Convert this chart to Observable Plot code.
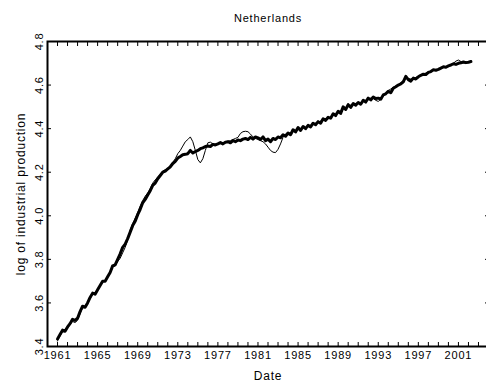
<!DOCTYPE html>
<html>
<head>
<meta charset="utf-8">
<script src="https://cdn.jsdelivr.net/npm/d3@7"></script>
<script src="https://cdn.jsdelivr.net/npm/@observablehq/plot@0.6"></script>
<style>
  html, body { margin: 0; padding: 0; background: #fff; }
  #chart svg { display: block; }
</style>
</head>
<body>
<div id="chart"></div>
<script>
// Quarterly series, first observation 1961 Q1
const startYear = 1961;

// log of industrial production (thin line)
const actual = [
  3.425, 3.448, 3.470, 3.478,
  3.485, 3.500, 3.515, 3.510,
  3.520, 3.550, 3.578, 3.588,
  3.598, 3.620, 3.640, 3.648,
  3.660, 3.678, 3.695, 3.705,
  3.722, 3.742, 3.765, 3.770,
  3.790, 3.805, 3.830, 3.855,
  3.890, 3.935, 3.965, 3.990,
  4.015, 4.045, 4.070, 4.090,
  4.105, 4.125, 4.150, 4.165,
  4.178, 4.190, 4.205, 4.212,
  4.215, 4.225, 4.245, 4.262,
  4.285, 4.300, 4.320, 4.340,
  4.350, 4.362, 4.340, 4.300,
  4.258, 4.243, 4.262, 4.300,
  4.335, 4.338, 4.330, 4.328,
  4.330, 4.335, 4.332, 4.340,
  4.342, 4.345, 4.350, 4.355,
  4.360, 4.378, 4.386, 4.388,
  4.386, 4.375, 4.362, 4.355,
  4.350, 4.345, 4.340, 4.330,
  4.315, 4.300, 4.292, 4.290,
  4.305, 4.330, 4.360, 4.375,
  4.378, 4.380, 4.392, 4.385,
  4.400, 4.398, 4.405, 4.402,
  4.412, 4.415, 4.420, 4.425,
  4.430, 4.435, 4.440, 4.440,
  4.445, 4.455, 4.462, 4.465,
  4.472, 4.480, 4.490, 4.495,
  4.502, 4.508, 4.512, 4.515,
  4.515, 4.520, 4.525, 4.530,
  4.535, 4.540, 4.538, 4.530,
  4.525, 4.535, 4.550, 4.562,
  4.575, 4.582, 4.590, 4.595,
  4.600, 4.610, 4.622, 4.632,
  4.630, 4.628, 4.632, 4.635,
  4.640, 4.648, 4.652, 4.655,
  4.660, 4.665, 4.668, 4.670,
  4.672, 4.676, 4.680, 4.685,
  4.690, 4.695, 4.700, 4.710,
  4.715, 4.708, 4.702, 4.700,
  4.705, 4.710
];

// fitted path (thick line)
const fitted = [
  3.435, 3.455, 3.475, 3.470,
  3.490, 3.505, 3.525, 3.520,
  3.530, 3.560, 3.585, 3.580,
  3.600, 3.625, 3.645, 3.640,
  3.660, 3.680, 3.700, 3.700,
  3.720, 3.740, 3.770, 3.775,
  3.800, 3.825, 3.855, 3.870,
  3.895, 3.925, 3.955, 3.975,
  4.005, 4.030, 4.060, 4.075,
  4.095, 4.115, 4.140, 4.150,
  4.170, 4.185, 4.200, 4.205,
  4.215, 4.225, 4.240, 4.250,
  4.265, 4.272, 4.280, 4.282,
  4.285, 4.300, 4.288, 4.295,
  4.300, 4.308, 4.312, 4.318,
  4.320, 4.318, 4.328, 4.325,
  4.330, 4.336, 4.330, 4.338,
  4.340, 4.335, 4.345, 4.340,
  4.348, 4.345, 4.352, 4.355,
  4.350, 4.360, 4.352, 4.362,
  4.358, 4.350, 4.362, 4.345,
  4.352, 4.340, 4.355, 4.350,
  4.362, 4.358, 4.372, 4.365,
  4.380, 4.372, 4.395, 4.385,
  4.405, 4.392, 4.410, 4.400,
  4.415, 4.408, 4.425, 4.418,
  4.432, 4.425, 4.445, 4.438,
  4.452, 4.448, 4.468, 4.460,
  4.480, 4.470, 4.500, 4.488,
  4.510, 4.498, 4.515, 4.508,
  4.520, 4.512, 4.530, 4.522,
  4.540, 4.532, 4.545, 4.538,
  4.540, 4.535, 4.555, 4.560,
  4.572, 4.565, 4.585, 4.592,
  4.600, 4.605, 4.615, 4.640,
  4.625, 4.618, 4.632, 4.628,
  4.638, 4.645, 4.650, 4.648,
  4.658, 4.662, 4.670, 4.668,
  4.672, 4.678, 4.684, 4.682,
  4.688, 4.692, 4.698, 4.695,
  4.700, 4.702, 4.706, 4.703,
  4.705, 4.708
];

// Axis ticks
const yearTicks = d3.range(1961, 2004);          // minor ticks, every year
const yearLabels = [1961, 1965, 1969, 1973, 1977, 1981, 1985, 1989, 1993, 1997, 2001];
const yTicks = [3.4, 3.6, 3.8, 4.0, 4.2, 4.4, 4.6, 4.8];

const titleText = "Netherlands";
const xTitle = "Date";
const yTitle = "log of industrial production";

const toRows = (vals) => vals.map((v, i) => ({date: startYear + i / 4, value: v}));
const actualRows = toRows(actual);
const fittedRows = toRows(fitted);

const font = "'Liberation Sans', Arial, sans-serif";

const chart = Plot.plot({
  width: 486,
  height: 390,
  marginLeft: 47,
  marginRight: -2,
  marginTop: 41,
  marginBottom: 44,
  style: {fontFamily: font, fontSize: "11px", letterSpacing: "0.8px", color: "#000", background: "#fff"},
  x: {domain: [1960, 2004]},
  y: {domain: [3.4, 4.8]},
  marks: [
    // inward tick marks on all sides
    Plot.axisX({anchor: "bottom", ticks: yearTicks, tickSize: 4, dy: -4, tickFormat: () => "", label: null}),
    Plot.axisX({anchor: "top", ticks: yearTicks, tickSize: 4, dy: 4, tickFormat: () => "", label: null}),
    Plot.axisY({anchor: "left", ticks: yTicks, tickSize: 4, dx: 4, tickFormat: () => "", label: null}),
    Plot.axisY({anchor: "right", ticks: yTicks, tickSize: 4, dx: -4, tickFormat: () => "", label: null}),
    // year labels
    Plot.axisX({anchor: "bottom", ticks: yearLabels, tickSize: 0, tickPadding: 5, tickFormat: d => String(d), label: null}),
    // rotated value labels
    Plot.text(yTicks, {y: d => d, text: d => d.toFixed(1), frameAnchor: "left", rotate: -90,
      dx: -5, lineAnchor: "bottom", textAnchor: "middle"}),
    // series
    Plot.line(actualRows, {x: "date", y: "value", stroke: "#000", strokeWidth: 1}),
    Plot.line(fittedRows, {x: "date", y: "value", stroke: "#000", strokeWidth: 3, strokeLinejoin: "round"}),
    // frame
    Plot.frame({stroke: "#000", strokeWidth: 2}),
    // titles
    Plot.text([titleText], {frameAnchor: "top", dy: -20, lineAnchor: "bottom", fontSize: 11}),
    Plot.text([xTitle], {frameAnchor: "bottom", dy: 25, lineAnchor: "top", fontSize: 12}),
    Plot.text([yTitle], {frameAnchor: "left", dx: -23, rotate: -90, lineAnchor: "bottom", textAnchor: "middle", fontSize: 12})
  ]
});

document.getElementById("chart").appendChild(chart);
</script>
</body>
</html>
